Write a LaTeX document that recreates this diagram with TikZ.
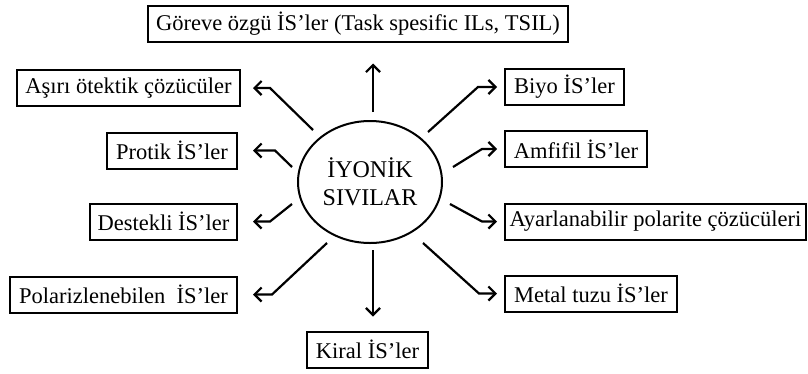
\documentclass[tikz,border=0pt]{standalone}
\usepackage{fontspec}
\setmainfont{Liberation Serif}
\usetikzlibrary{arrows.meta,shapes.geometric}
\tikzset{
  lbox/.style={draw, line width=2pt, minimum height=36pt, inner sep=0pt, font=\fontsize{22.5}{27}\selectfont},
  arr/.style={line width=2.2pt, -{Straight Barb[length=7pt,width=14pt]}, line join=miter},
}
\begin{document}
\begin{tikzpicture}[x=1pt,y=-1pt]
\useasboundingbox[fill=white] (0,0) rectangle (808,373);
% central ellipse
\node[ellipse, draw, line width=2pt, minimum width=144pt, minimum height=122pt, inner sep=0pt,
  align=center, font=\fontsize{24}{28}\selectfont] (c) at (370,182) {İYONİK\\SIVILAR};
% boxes
\node[lbox, minimum width=420pt] (top) at (358,23.5) {Göreve özgü İS’ler (Task spesific ILs, TSIL)};
\node[lbox, minimum width=223pt] (asiri) at (128.5,88) {Aşırı ötektik çözücüler};
\node[lbox, minimum width=130pt] (protik) at (172,150.5) {Protik İS’ler};
\node[lbox, minimum width=147pt] (destekli) at (163.5,221.5) {Destekli İS’ler};
\node[lbox, minimum width=227pt] (polar) at (123.5,294.5) {Polarizlenebilen\ \ İS’ler};
\node[lbox, minimum width=121pt] (kiral) at (367.5,349.5) {Kiral İS’ler};
\node[lbox, minimum width=119pt] (biyo) at (564.5,87) {Biyo İS’ler};
\node[lbox, minimum width=142pt] (amfifil) at (576,149) {Amfifil İS’ler};
\node[lbox, minimum width=301pt] (ayar) at (655.5,221.5) {Ayarlanabilir polarite çözücüleri};
\node[lbox, minimum width=172pt] (metal) at (591,293.5) {Metal tuzu İS’ler};
% connector start and bend points
\coordinate (su) at (373,112);
\coordinate (sd) at (373,250);
\coordinate (s1) at (313,130); \coordinate (b1) at (270,88);
\coordinate (s2) at (292,167); \coordinate (b2) at (275,150.5);
\coordinate (s3) at (292,204); \coordinate (b3) at (270,221.5);
\coordinate (s4) at (327,243); \coordinate (b4) at (272,294.5);
\coordinate (s5) at (428,132); \coordinate (b5) at (478,87);
\coordinate (s6) at (453,167); \coordinate (b6) at (482,149);
\coordinate (s7) at (450,204); \coordinate (b7) at (482,221.5);
\coordinate (s8) at (423,243); \coordinate (b8) at (479,293.5);
% connectors
\draw[arr, shorten >=21pt] (su) -- (su |- top.south);
\draw[arr, shorten >=14pt] (sd) -- (sd |- kiral.north);
\draw[arr, shorten >=12pt] (s1) -- (b1) -- (asiri.east);
\draw[arr, shorten >=15pt] (s2) -- (b2) -- (protik.east);
\draw[arr, shorten >=15pt] (s3) -- (b3) -- (destekli.east);
\draw[arr, shorten >=15pt] (s4) -- (b4) -- (polar.east);
\draw[arr, shorten >=7pt] (s5) -- (b5) -- (biyo.west);
\draw[arr, shorten >=7pt] (s6) -- (b6) -- (amfifil.west);
\draw[arr, shorten >=7pt] (s7) -- (b7) -- (ayar.west);
\draw[arr, shorten >=7pt] (s8) -- (b8) -- (metal.west);
\end{tikzpicture}
\end{document}
